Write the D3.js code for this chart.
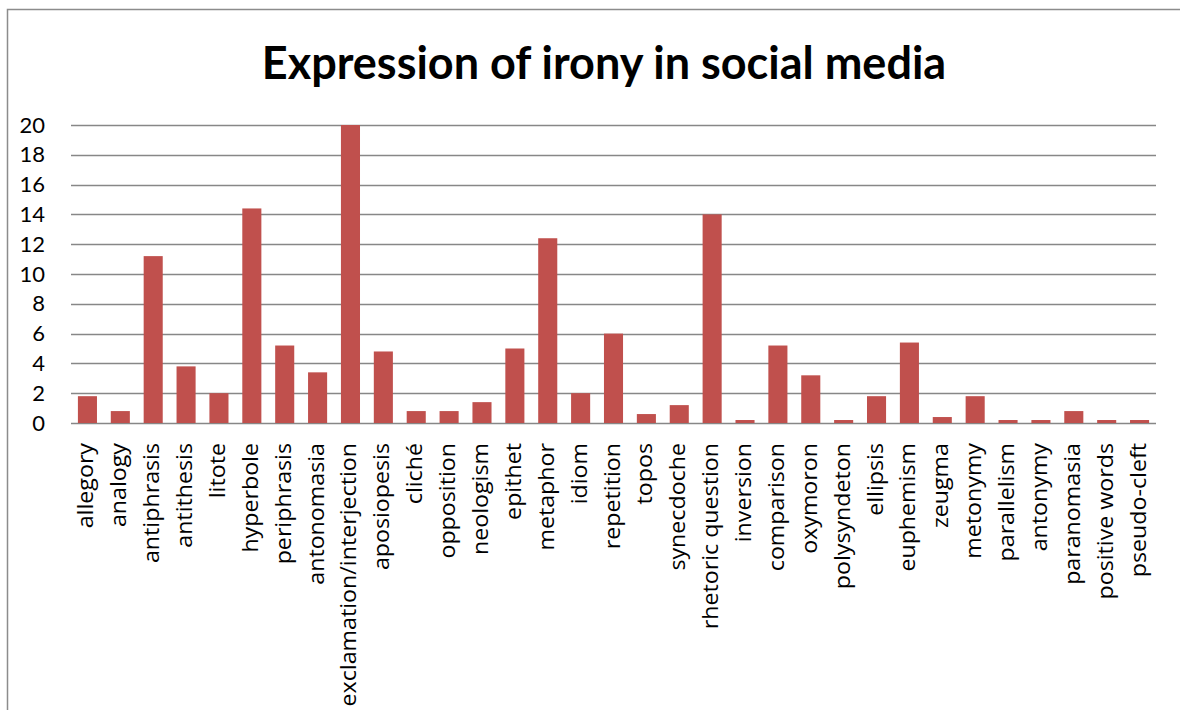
<!DOCTYPE html>
<html>
<head>
<meta charset="utf-8">
<script src="https://cdn.jsdelivr.net/npm/d3@7"></script>
<style>
  body { margin: 0; background: #fff; }
  svg { display: block; }
</style>
</head>
<body>
<svg width="1180" height="710"></svg>
<script>
// figures of speech and how often each one shows irony
const categories = ["allegory", "analogy", "antiphrasis", "antithesis", "litote", "hyperbole",
    "periphrasis", "antonomasia", "exclamation/interjection", "aposiopesis", "cliché",
    "opposition", "neologism", "epithet", "metaphor", "idiom", "repetition", "topos",
    "synecdoche", "rhetoric question", "inversion", "comparison", "oxymoron", "polysyndeton",
    "ellipsis", "euphemism", "zeugma", "metonymy", "parallelism", "antonymy", "paranomasia",
    "positive words", "pseudo-cleft"];
const values = [1.8, 0.8, 11.2, 3.8, 2, 14.4, 5.2, 3.4, 20, 4.8, 0.8,
    0.8, 1.4, 5, 12.4, 2, 6, 0.6, 1.2, 14, 0.2, 5.2, 3.2, 0.2,
    1.8, 5.4, 0.4, 1.8, 0.2, 0.2, 0.8, 0.2, 0.2];
const yTicks = [0, 2, 4, 6, 8, 10, 12, 14, 16, 18, 20];
const title = "Expression of irony in social media";

const svg = d3.select("svg");
const plotLeft = 71, plotRight = 1156, plotTop = 125, plotBottom = 423;
const font = "Lato, 'Open Sans', sans-serif";
const labelFont = "'Open Sans', Lato, sans-serif";

// chart frame (right and bottom edges fall outside the picture)
svg.append("rect")
    .attr("x", 7.5).attr("y", 9.5)
    .attr("width", 1200).attr("height", 800)
    .attr("fill", "none")
    .attr("stroke", "#8c8c8c")
    .attr("stroke-width", 1.5);

const x = d3.scaleBand()
    .domain(categories)
    .range([plotLeft, plotRight])
    .paddingInner(0.42)
    .paddingOuter(0.21);

const y = d3.scaleLinear()
    .domain([0, 20])
    .range([plotBottom, plotTop]);

svg.append("text")
    .attr("x", 604).attr("y", 79)
    .attr("text-anchor", "middle")
    .attr("font-family", font)
    .attr("font-weight", "bold")
    .attr("font-size", 45)
    .attr("fill", "#000")
    .text(title);

// gridlines
svg.append("g")
    .selectAll("line")
    .data(yTicks)
    .join("line")
    .attr("x1", plotLeft).attr("x2", plotRight)
    .attr("y1", d => Math.round(y(d)) + 0.5)
    .attr("y2", d => Math.round(y(d)) + 0.5)
    .attr("stroke", "#878787")
    .attr("stroke-width", 1.5);

// y axis labels
const yAxis = svg.append("g")
    .attr("transform", `translate(${plotLeft - 7},0)`)
    .call(d3.axisLeft(y).tickValues(yTicks).tickSize(0).tickPadding(19));
yAxis.select(".domain").remove();
yAxis.selectAll("text")
    .attr("font-family", font)
    .attr("font-size", 22)
    .attr("fill", "#000");

svg.append("g")
    .attr("fill", "#c0504d")
    .selectAll("rect")
    .data(categories)
    .join("rect")
    .attr("x", d => x(d))
    .attr("width", x.bandwidth())
    .attr("y", (d, i) => y(values[i]))
    .attr("height", (d, i) => y(0) - y(values[i]));

// category labels, rotated
svg.append("g")
    .selectAll("text")
    .data(categories)
    .join("text")
    .attr("transform", d => `translate(${x(d) + x.bandwidth() / 2 + 6},443) scale(1,1.08) rotate(-90)`)
    .attr("text-anchor", "end")
    .attr("font-family", labelFont)
    .attr("font-size", 21.5)
    .attr("fill", "#000")
    .text(d => d);
</script>
</body>
</html>
